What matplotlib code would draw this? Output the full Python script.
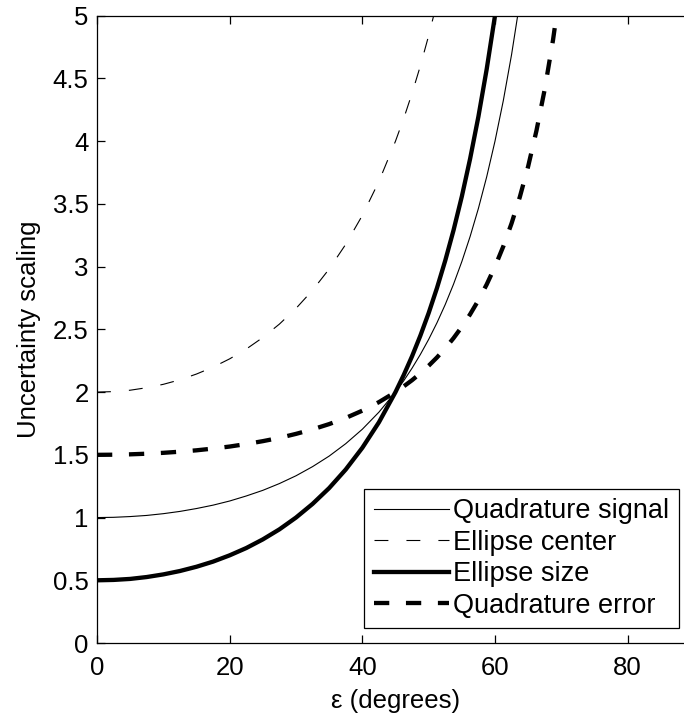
import numpy as np
import matplotlib
matplotlib.use('Agg')
import matplotlib.pyplot as plt

plt.rcParams['font.family'] = ['Liberation Sans', 'DejaVu Sans']
plt.rcParams['font.size'] = 18.5
plt.rcParams['lines.scale_dashes'] = False

# epsilon in degrees
eps_deg = [0, 2.5, 5, 7.5, 10, 12.5, 15, 17.5, 20, 22.5, 25, 27.5, 30, 32.5, 35,
           37.5, 40, 42.5, 45, 46.25, 47.5, 48.75, 50, 51.25, 52.5, 53.75, 55,
           56.25, 57.5, 58.75, 60, 61.25, 62.5, 63.75, 65, 66.25, 67.5, 68.75, 70]

quad_signal = [1.000, 1.002, 1.008, 1.017, 1.031, 1.049, 1.072, 1.099, 1.132, 1.172,
               1.217, 1.271, 1.333, 1.406, 1.490, 1.589, 1.704, 1.840, 2.000, 2.091,
               2.191, 2.300, 2.420, 2.552, 2.698, 2.860, 3.040, 3.240, 3.464, 3.716,
               4.000, 4.322, 4.690, 5.112]
ellipse_center = [2.000, 2.004, 2.015, 2.035, 2.062, 2.098, 2.144, 2.199, 2.265, 2.343,
                  2.435, 2.542, 2.667, 2.812, 2.981, 3.178, 3.408, 3.679, 4.000, 4.182,
                  4.382, 4.600, 4.841, 5.105]
ellipse_size = [0.500, 0.503, 0.511, 0.526, 0.547, 0.574, 0.608, 0.649, 0.699, 0.757,
                0.826, 0.906, 1.000, 1.109, 1.235, 1.383, 1.556, 1.759, 2.000, 2.137,
                2.286, 2.450, 2.630, 2.829, 3.048, 3.290, 3.559, 3.860, 4.196, 4.574,
                5.000, 5.483]
quad_error = [1.500, 1.501, 1.504, 1.509, 1.516, 1.525, 1.536, 1.550, 1.566, 1.586,
              1.609, 1.635, 1.667, 1.703, 1.745, 1.794, 1.852, 1.920, 2.000, 2.046,
              2.095, 2.150, 2.210, 2.276, 2.349, 2.430, 2.520, 2.620, 2.732, 2.858,
              3.000, 3.161, 3.345, 3.556, 3.799, 4.083, 4.414, 4.807, 5.274]

fig = plt.figure(figsize=(6.84, 7.2), dpi=100)
ax = fig.add_axes([0.1418, 0.1069, 0.8728, 0.8713])

def xs(vals):
    return eps_deg[:len(vals)]

ax.plot(xs(quad_signal), quad_signal, color='k', lw=0.8, label='Quadrature signal')
ax.plot(xs(ellipse_center), ellipse_center, color='k', lw=0.8, dashes=(10, 13),
        label='Ellipse center')
ax.plot(xs(ellipse_size), ellipse_size, color='k', lw=3.1, label='Ellipse size')
ax.plot(xs(quad_error), quad_error, color='k', lw=3.1, dashes=(11, 12),
        dash_capstyle='butt', label='Quadrature error')

ax.set_xlim(0, 90)
ax.set_ylim(0, 5)
ax.set_xticks([0, 20, 40, 60, 80])
ax.set_yticks(np.arange(0, 5.01, 0.5))
ax.set_yticklabels(['0', '0.5', '1', '1.5', '2', '2.5', '3', '3.5', '4', '4.5', '5'])
ax.tick_params(direction='in', top=True, right=True, length=6, width=0.9)
ax.tick_params(axis='x', pad=9)
ax.tick_params(axis='y', pad=6)
for s in ax.spines.values():
    s.set_linewidth(0.9)

ax.set_xlabel('ε (degrees)')
ax.set_ylabel('Uncertainty scaling')
ax.xaxis.set_label_coords(0.5, -0.073)
ax.yaxis.set_label_coords(-0.094, 0.5)

leg = ax.legend(loc='lower right', bbox_to_anchor=(0.9927, 0.1278),
                bbox_transform=fig.transFigure, fancybox=False, framealpha=1,
                edgecolor='k', fontsize=19.5, handlelength=2.8, handletextpad=0.15,
                labelspacing=0.2, borderpad=0.35, borderaxespad=0)
leg.get_frame().set_linewidth(0.9)

fig.savefig('out.png', dpi=100)
